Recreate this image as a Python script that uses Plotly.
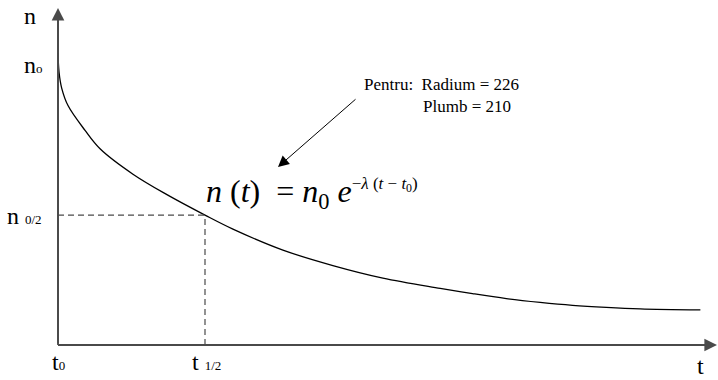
import plotly.graph_objects as go

# Radioactive decay curve n(t), time in units of the half-life, n in units of n0
t_vals = [0.0, 0.007, 0.025, 0.068, 0.184, 0.286, 0.51, 0.741, 1.0, 1.19, 1.53,
          1.87, 2.21, 2.6, 2.82, 3.05, 3.28, 3.5, 3.73, 3.96, 4.37]
n_vals = [1.0, 0.935, 0.88, 0.82, 0.735, 0.672, 0.585, 0.515, 0.445, 0.397, 0.325,
          0.272, 0.229, 0.194, 0.176, 0.159, 0.146, 0.136, 0.129, 0.124, 0.12]
t_half = 1.0
n_half = 0.445

W, H = 718, 380
X0, Y0 = 58, 345          # pixel position of the origin
SX, SY = 147.0, 292.0     # pixels per unit on each axis

def tx(px):
    return (px - X0) / SX

def ny(py):
    return (Y0 - py) / SY

SERIF = "Liberation Serif"
AXIS_COL = "#4a4a4a"

fig = go.Figure()

# decay curve
fig.add_trace(go.Scatter(
    x=t_vals, y=n_vals, mode="lines",
    line=dict(color="black", width=1.3, shape="spline", smoothing=1.0),
    hoverinfo="skip", showlegend=False,
))

shapes = [
    dict(type="line", x0=0, y0=n_half, x1=t_half, y1=n_half,
         line=dict(color=AXIS_COL, width=1.2, dash="6px,4px")),
    dict(type="line", x0=t_half, y0=0, x1=t_half, y1=n_half,
         line=dict(color=AXIS_COL, width=1.2, dash="6px,4px")),
    dict(type="line", x0=0, y0=0, x1=0, y1=ny(14),
         line=dict(color=AXIS_COL, width=1.8)),
    dict(type="line", x0=0, y0=0, x1=tx(710), y1=0,
         line=dict(color=AXIS_COL, width=1.8)),
]

annotations = []

def arrow(x, y, ax, ay, color, width, size):
    annotations.append(dict(x=x, y=y, ax=ax, ay=ay, xref="x", yref="y",
                            axref="x", ayref="y", text="", showarrow=True,
                            arrowhead=2, arrowsize=size, arrowwidth=width,
                            arrowcolor=color, standoff=0))

# arrowheads on the axes
arrow(0, ny(8), 0, 0, AXIS_COL, 1.8, 1.4)
arrow(tx(717), 0, 0, 0, AXIS_COL, 1.8, 1.4)
# pointer toward the formula
arrow(tx(278), ny(167), tx(357), ny(98), "black", 1, 2.2)

def label(text, px, py, size, xanchor="left", yanchor="middle"):
    annotations.append(dict(x=tx(px), y=ny(py), xref="x", yref="y",
                            text=text, showarrow=False, xanchor=xanchor,
                            yanchor=yanchor, borderpad=0,
                            font=dict(family=SERIF, size=size, color="black")))

small = "<span style='font-size:13px'>%s</span>"

label("n", 23, 16, 24)
label("n" + small % "o", 23, 65, 24)
label("n " + small % "0/2", 6, 216, 24)
label("t" + small % "0", 51, 362, 24)
label("t " + small % "1/2", 191, 362, 24)
label("t", 696, 380, 24, yanchor="bottom")

label("Pentru:&nbsp;&nbsp;Radium = 226", 363, 84, 17)
label("Plumb = 210", 422, 106, 17)

sup = "<span style='font-size:17px'>−<i>λ</i> (<i>t</i> − <i>t</i><sub>0</sub>)</span>"
formula = ("<i>n</i> (<i>t</i>)&nbsp;&nbsp;=&nbsp;<i>n</i><sub>0</sub> <i>e</i>"
           "<sup>" + sup + "</sup>")
label(formula, 205, 193, 32)

fig.update_layout(
    width=W, height=H,
    margin=dict(l=0, r=0, t=0, b=0),
    paper_bgcolor="white", plot_bgcolor="white",
    xaxis=dict(range=[tx(0), tx(W)], visible=False, fixedrange=True),
    yaxis=dict(range=[ny(H), ny(0)], visible=False, fixedrange=True),
    shapes=shapes,
    annotations=annotations,
)

fig.write_html("out.html")
